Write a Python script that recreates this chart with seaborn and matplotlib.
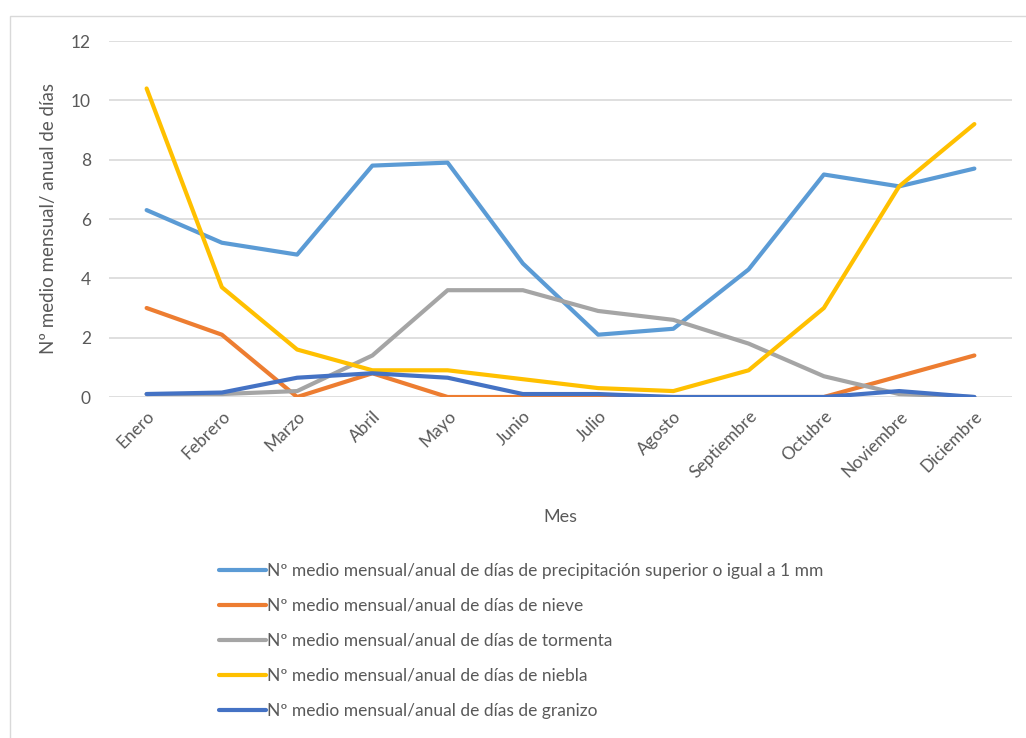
import pandas as pd
import matplotlib.pyplot as plt
import seaborn as sns
from matplotlib.patches import Rectangle

# Data
meses = ['Enero', 'Febrero', 'Marzo', 'Abril', 'Mayo', 'Junio', 'Julio',
         'Agosto', 'Septiembre', 'Octubre', 'Noviembre', 'Diciembre']

precipitacion = [6.3, 5.2, 4.8, 7.8, 7.9, 4.5, 2.1, 2.3, 4.3, 7.5, 7.1, 7.7]
nieve = [3.0, 2.1, 0.0, 0.8, 0.0, 0.0, 0.0, 0.0, 0.0, 0.0, 0.7, 1.4]
tormenta = [0.1, 0.1, 0.2, 1.4, 3.6, 3.6, 2.9, 2.6, 1.8, 0.7, 0.1, 0.0]
niebla = [10.4, 3.7, 1.6, 0.9, 0.9, 0.6, 0.3, 0.2, 0.9, 3.0, 7.1, 9.2]
granizo = [0.1, 0.15, 0.65, 0.8, 0.65, 0.1, 0.1, 0.0, 0.0, 0.0, 0.2, 0.0]

series_names = [
    'Nº medio mensual/anual de días de precipitación superior o igual a 1 mm',
    'Nº medio mensual/anual de días de nieve',
    'Nº medio mensual/anual de días de tormenta',
    'Nº medio mensual/anual de días de niebla',
    'Nº medio mensual/anual de días de granizo',
]
colores = ['#5B9BD5', '#ED7D31', '#A5A5A5', '#FFC000', '#4472C4']

# Build long-form table
rows = []
for name, vals in zip(series_names, [precipitacion, nieve, tormenta, niebla, granizo]):
    for i, (m, v) in enumerate(zip(meses, vals)):
        rows.append({'idx': i, 'Mes': m, 'valor': v, 'serie': name})
df = pd.DataFrame(rows)

sns.set_style('white')
plt.rcParams['font.family'] = ['Lato', 'DejaVu Sans']
text_color = '#595959'

fig = plt.figure(figsize=(10.26, 7.38), dpi=100)
# chart border (top and left visible in the reference)
fig.patches.append(Rectangle((10 / 1026, -0.1), 1.2, (738 - 16) / 738 + 0.1,
                             transform=fig.transFigure, fill=False,
                             edgecolor='#D9D9D9', linewidth=1))

ax = fig.add_axes([109 / 1026, 1 - 397 / 738, (1012 - 109) / 1026, (397 - 41) / 738])

sns.lineplot(data=df, x='idx', y='valor', hue='serie', palette=colores,
             hue_order=series_names, linewidth=3, ax=ax, legend=False)

ax.set_xlim(-0.5, 11.5)
ax.set_ylim(0, 12)
ax.set_yticks(range(0, 13, 2))
ax.set_xticks(range(len(meses)))
ax.set_xticklabels(meses, rotation=45, ha='right', rotation_mode='anchor')
ax.tick_params(axis='both', length=0, labelsize=12.5, labelcolor=text_color)
ax.tick_params(axis='x', pad=8)
ax.tick_params(axis='y', pad=13)
ax.yaxis.grid(True, color='#D9D9D9', linewidth=1.2)
ax.set_axisbelow(True)
for s in ax.spines.values():
    s.set_visible(False)

ax.set_xlabel('Mes', fontsize=13, color=text_color, labelpad=20)
ax.set_ylabel('Nº medio mensual/ anual de días', fontsize=13.5, color=text_color, labelpad=10)

handles = [plt.Line2D([], [], color=c, linewidth=3) for c in colores]
fig.legend(handles, series_names, loc='upper left', bbox_to_anchor=(203 / 1026, 1 - 547 / 738),
           frameon=False, fontsize=12.5, labelcolor=text_color, handlelength=2.7,
           handletextpad=0.1, labelspacing=1.1)

fig.savefig('out.png', dpi=100)
